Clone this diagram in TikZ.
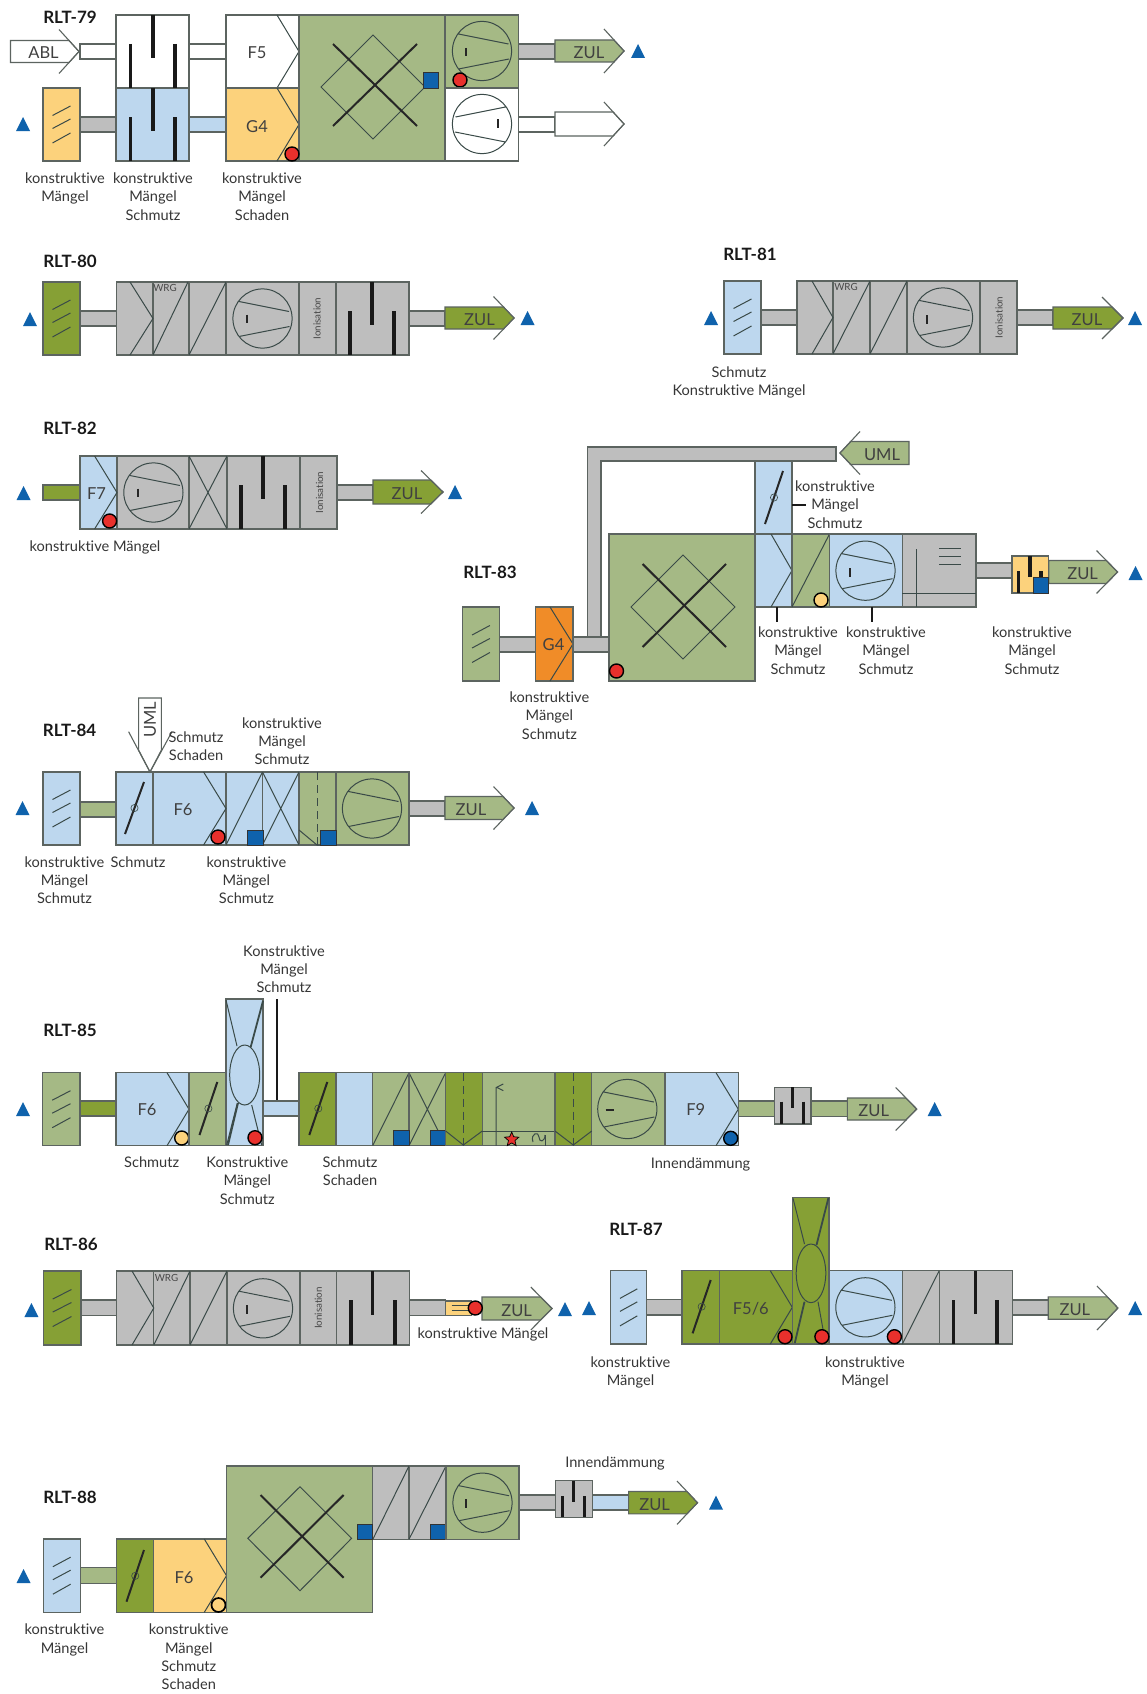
\documentclass[tikz,border=0pt]{standalone}
\usepackage{fontspec}
\setmainfont[Ligatures=NoCommon]{Lato}
\usetikzlibrary{shapes.geometric}
\definecolor{grn}{HTML}{A5B985}
\definecolor{olv}{HTML}{86A035}
\definecolor{blu}{HTML}{BDD7EE}
\definecolor{yel}{HTML}{FCD27C}
\definecolor{gry}{HTML}{BEBEBE}
\definecolor{org}{HTML}{F08C28}
\definecolor{edgec}{HTML}{5C6460}
\definecolor{inkc}{HTML}{3A4A48}
\definecolor{dblu}{HTML}{0F62AC}
\definecolor{redd}{HTML}{E8302C}
\definecolor{txtc}{HTML}{363636}
\newcounter{labc}
\tikzset{
 boxs/.style={draw=edgec,line width=1.1pt},
 inks/.style={draw=inkc,line width=1pt},
 dashs/.style={draw=inkc,line width=1pt,dash pattern=on 8pt off 5pt},
 blacks/.style={draw=black!90,line width=3.3pt},
 thicks/.style={draw=black!85,line width=2pt},
 labl/.style={font=\fontsize{14.6}{18.4}\selectfont,align=center,inner sep=0pt,text=txtc},
 midl/.style={font=\fontsize{16.5}{18}\selectfont,inner sep=0pt,text=black!75},
 ttls/.style={font=\fontsize{17}{18}\selectfont\bfseries,inner sep=0pt,text=black!90},
 tinyl/.style={font=\fontsize{9.8}{10}\selectfont,inner sep=0pt,text=black!72},
 leader/.style={draw=black!90,line width=1.6pt}
}
\newcommand{\ubox}[5]{\path[boxs,fill=#5] (#1,#3) rectangle (#2,#4);}
\newcommand{\chevf}[4]{\draw[inks] (#1,#3) -- (#2,{(#3+#4)/2}) -- (#1,#4);}
\newcommand{\diagl}[4]{\draw[inks] (#1,#4) -- (#2,#3);}
\newcommand{\crossl}[4]{\draw[inks] (#1,#4) -- (#2,#3) (#1,#3) -- (#2,#4);}
\newcommand{\fanl}[3]{\begin{scope}[shift={(#1,#2)},xscale=#3]
 \draw[inks] (0,0) circle[radius=29.6pt] (-23.5,-17) -- (26.5,-7) (-23.5,18) -- (27,8);
 \end{scope}}
\newcommand{\ftick}[2]{\draw[thicks] (#1,{#2-4}) -- (#1,{#2+4.5});}
\newcommand{\bars}[7]{\draw[blacks] (#1,#6) -- (#1,#5) (#2,#4) -- (#2,#7) (#3,#6) -- (#3,#5);}
\newcommand{\hoodl}[5]{\ubox{#1}{#2}{#3}{#4}{#5}
 \draw[inks] ({#1+9.5},{(#3+#4)/2-9}) -- ({#2-9.5},{(#3+#4)/2-18.5})
 ({#1+9.5},{(#3+#4)/2+4}) -- ({#2-9.5},{(#3+#4)/2-5.5})
 ({#1+9.5},{(#3+#4)/2+18.5}) -- ({#2-9.5},{(#3+#4)/2+8.5});}
\newcommand{\dampl}[4]{\draw[thicks] (#1,#2) -- (#3,#4);
 \draw[inks,line width=0.6pt] ({(#1+#3)/2},{(#2+#4)/2}) circle[radius=3.6pt];}
\newcommand{\arrowb}[7]{\path[boxs,fill=#7] (#1,{#3-#4}) -- ({#2-(#2-#5)*#4/#6},{#3-#4}) -- (#2,#3) -- ({#2-(#2-#5)*#4/#6},{#3+#4}) -- (#1,{#3+#4}) -- cycle;
 \draw[boxs] (#5,{#3-#6}) -- (#2,#3) -- (#5,{#3+#6});}
\newcommand{\tria}[2]{\fill[dblu] ({#1-7},{#2+7}) -- ({#1+7},{#2+7}) -- (#1,{#2-7}) -- cycle;}
\newcommand{\rdot}[2]{\draw[black,line width=1.4pt,fill=redd] (#1,#2) circle[radius=7pt];}
\newcommand{\ydot}[2]{\draw[black,line width=1.4pt,fill=yel] (#1,#2) circle[radius=7pt];}
\newcommand{\bsq}[4]{\path[draw=black!80,line width=1pt,fill=dblu] (#1,#3) rectangle (#2,#4);}
\newcommand{\lab}[3]{\stepcounter{labc}\node[labl,anchor=north] (L\thelabc) at (#1,{#2-5.6}) {#3};}
\newcommand{\mtx}[3]{\stepcounter{labc}\node[midl] (L\thelabc) at (#1,#2) {#3};}
\newcommand{\ttl}[3]{\stepcounter{labc}\node[ttls] (L\thelabc) at (#1,#2) {#3};}
\newcommand{\tny}[4][0]{\stepcounter{labc}\node[tinyl,rotate=#1] (L\thelabc) at (#2,#3) {#4};}
\begin{document}
\begin{tikzpicture}[x=1pt,y=-1pt]
\useasboundingbox (0,0) rectangle (1146,1694);
\fill[white] (0,0) rectangle (1146,1694);
% ---------- RLT-79
\ttl{70}{17}{RLT-79}
\arrowb{10.5}{79}{51.5}{11}{59}{22}{white}
\mtx{43.5}{53}{ABL}
\ubox{80}{116}{44}{59}{white}
\ubox{116}{189}{15}{88}{white}
\ubox{116}{189}{88}{161}{blu}
\bars{130.5}{153}{175}{15}{88}{44}{58}
\bars{130.5}{153}{175}{88}{161}{117}{131}
\ubox{189}{226}{44}{59}{white}
\ubox{226}{299}{15}{88}{white}
\chevf{277}{299}{15}{88}
\mtx{257}{53}{F5}
\ubox{226}{299}{88}{161}{yel}
\chevf{277}{299}{88}{161}
\mtx{257}{127}{G4}
\ubox{299}{445}{15}{161}{grn}
\draw[inks] (321,87) -- (373,35) -- (425,87) -- (373,139) -- cycle;
\draw[thicks] (333,44) -- (417,126) (333,126) -- (417,44);
\rdot{292}{154}
\bsq{423}{438.5}{73}{88}
\ubox{445}{518.5}{15}{88}{grn}
\fanl{482}{51}{1}
\ftick{466}{52}
\rdot{460}{80}
\ubox{445}{518.5}{88}{161}{white}
\fanl{482}{124}{-1}
\ftick{498}{123}
\ubox{518.5}{555}{44}{59}{gry}
\arrowb{555}{624}{51}{11}{604}{22}{grn}
\mtx{589}{53}{ZUL}
\tria{638}{51}
\ubox{518.5}{555}{117}{132}{white}
\arrowb{555}{624}{124}{12}{604}{22}{white}
\hoodl{43}{80}{88}{161}{yel}
\ubox{80}{116}{117}{132}{gry}
\ubox{189}{226}{117}{132}{blu}
\tria{23}{124}
\lab{65}{178}{konstruktive\\Mängel}
\lab{153}{178}{konstruktive\\Mängel\\Schmutz}
\lab{262}{178}{konstruktive\\Mängel\\Schaden}
% ---------- RLT-80
\ttl{70}{261}{RLT-80}
\hoodl{43}{80}{282}{355}{olv}
\ubox{80}{116.5}{311}{326}{gry}
\ubox{116.5}{409}{282}{355}{gry}
\draw[boxs] (153,282) -- (153,355) (189,282) -- (189,355) (226,282) -- (226,355) (299,282) -- (299,355) (336,282) -- (336,355);
\chevf{130}{153}{282}{355}
\diagl{153}{188}{282}{355}
\diagl{189}{226}{282}{355}
\tny{165}{288}{WRG}
\fanl{262.5}{318.5}{1}
\ftick{246.5}{318.5}
\tny[90]{317}{318.5}{Ionisation}
\bars{350}{372}{394}{282}{355}{311}{325}
\ubox{409}{445}{311}{326}{gry}
\arrowb{445}{514}{318}{11}{493.5}{21.5}{olv}
\mtx{479.5}{320}{ZUL}
\tria{30}{319}
\tria{527.5}{318}
% ---------- RLT-81
\ttl{750}{254}{RLT-81}
\hoodl{724}{761}{281}{354}{blu}
\ubox{761}{797}{310}{325}{gry}
\ubox{797}{1017}{281}{354}{gry}
\draw[boxs] (833,281) -- (833,354) (870,281) -- (870,354) (907,281) -- (907,354) (980,281) -- (980,354);
\chevf{812}{833}{281}{354}
\diagl{833}{870}{281}{354}
\diagl{870}{907}{281}{354}
\tny{846}{287}{WRG}
\fanl{943}{317.5}{1}
\ftick{927}{319}
\tny[90]{999}{317.5}{Ionisation}
\ubox{1017}{1053}{310}{325}{gry}
\arrowb{1053}{1123}{318}{11}{1102}{21}{olv}
\mtx{1087}{320}{ZUL}
\tria{711}{318}
\tria{1135}{318}
\lab{739}{372}{Schmutz\\Konstruktive Mängel}
% ---------- RLT-82
\ttl{70}{428}{RLT-82}
\ubox{43}{80}{485}{500}{olv}
\ubox{80}{337}{456}{529}{gry}
\ubox{80}{117}{456}{529}{blu}
\chevf{94.6}{117}{456}{529}
\mtx{96.5}{494}{F7}
\rdot{109.6}{521}
\fanl{153.4}{492.5}{1}
\ftick{137.5}{492.5}
\draw[boxs] (189,456) -- (189,529) (227,456) -- (227,529) (300,456) -- (300,529);
\crossl{189}{227}{456}{529}
\bars{241}{263}{285}{456}{529}{485}{499}
\tny[90]{319.6}{492.5}{Ionisation}
\ubox{337}{373}{485}{500}{gry}
\arrowb{373}{443}{492}{12}{421}{21.5}{olv}
\mtx{407}{494}{ZUL}
\tria{23.6}{493}
\tria{455}{492}
\lab{95}{546}{konstruktive Mängel}
% ---------- RLT-83
\ttl{490}{572}{RLT-83}
\hoodl{462.5}{499.4}{607}{681}{grn}
\ubox{499.4}{535.5}{637}{652}{gry}
\ubox{535.5}{573}{607}{681}{org}
\chevf{550}{573}{607}{681}
\mtx{553.5}{645}{G4}
\ubox{573}{609}{637}{652}{gry}
\path[boxs,fill=gry] (587.7,637) -- (587.7,447) -- (836,447) -- (836,461) -- (601,461) -- (601,637) -- cycle;
\arrowb{909}{840}{453}{11.5}{860}{21.5}{grn}
\mtx{882}{455}{UML}
\ubox{609}{755}{534}{681}{grn}
\draw[inks] (631,607) -- (683,555) -- (735,607) -- (683,659) -- cycle;
\draw[thicks] (642.6,564) -- (726,647) (642.6,647) -- (726,564);
\rdot{616.5}{671}
\ubox{755}{792}{461}{534}{blu}
\dampl{765}{524}{783}{471}
\coordinate (c83a) at (792,505);
\coordinate (c83b) at (805.6,505);
\draw[leader] (c83a) -- (c83b);
\lab{835}{486}{konstruktive\\Mängel\\Schmutz}
\ubox{755}{792}{534}{607}{blu}
\chevf{771}{792}{534}{607}
\ubox{792}{829.5}{534}{607}{grn}
\diagl{792}{829.5}{534}{607}
\ydot{821}{600}
\ubox{829.5}{902.4}{534}{607}{blu}
\fanl{865.5}{570.7}{1}
\ftick{850}{572}
\ubox{902.4}{976}{534}{607}{gry}
\draw[inks] (916.4,549) -- (916.4,607) (902.4,593) -- (976,593) (939,548) -- (961,548) (939,556) -- (961,556) (939,564) -- (961,564);
\coordinate (c83c) at (777,607);
\coordinate (c83d) at (777,622);
\coordinate (c83e) at (872,607);
\coordinate (c83f) at (872,622);
\draw[leader] (c83c) -- (c83d) (c83e) -- (c83f);
\lab{798}{632}{konstruktive\\Mängel\\Schmutz}
\lab{886}{632}{konstruktive\\Mängel\\Schmutz}
\lab{1032}{632}{konstruktive\\Mängel\\Schmutz}
\lab{549.4}{697}{konstruktive\\Mängel\\Schmutz}
\ubox{976}{1012}{563}{578}{gry}
\arrowb{1048.7}{1117.6}{572}{11.5}{1096.5}{21.5}{grn}
\ubox{1012}{1048.7}{556}{593}{yel}
\bars{1018.6}{1030}{1041}{556}{593}{571}{577}
\bsq{1033.4}{1048.7}{577}{593}
\mtx{1082.6}{574}{ZUL}
\tria{1135.6}{573}
% ---------- RLT-84
\ttl{69.6}{730}{RLT-84}
\hoodl{43}{80}{772}{845}{blu}
\ubox{80}{116}{802}{817}{grn}
\ubox{116}{299}{772}{845}{blu}
\ubox{299}{409}{772}{845}{grn}
\draw[boxs] (153,772) -- (153,845) (226,772) -- (226,845) (262.5,772) -- (262.5,845) (336,772) -- (336,845);
\dampl{125}{834}{144}{782}
\chevf{203.6}{226}{772}{845}
\mtx{183}{810}{F6}
\rdot{218}{837}
\diagl{226}{262.5}{772}{845}
\crossl{262.5}{299}{772}{845}
\bsq{247}{263}{830}{845}
\draw[dashs] (317,772) -- (317,845);
\draw[inks] (299,830) -- (317,845) -- (320,845);
\bsq{320}{336}{830}{845}
\fanl{372}{808.5}{1}
\ubox{409}{445}{801}{816}{gry}
\arrowb{445}{514}{808}{11.5}{493.5}{21.5}{grn}
\mtx{471}{810}{ZUL}
\path[boxs,fill=white] (138.6,698) -- (161.4,698) -- (161.4,750) -- (150,772) -- (138.6,750) -- cycle;
\draw[boxs] (128.6,731.7) -- (150,772) -- (172,731.7);
\stepcounter{labc}\node[midl,rotate=90] (L\thelabc) at (150,720) {UML};
\tria{22.5}{808}
\tria{532}{808}
\lab{196}{737}{Schmutz\\Schaden}
\lab{282}{722.7}{konstruktive\\Mängel\\Schmutz}
\lab{64.5}{861.7}{konstruktive\\Mängel\\Schmutz}
\lab{138}{861.7}{Schmutz}
\lab{246.4}{861.7}{konstruktive\\Mängel\\Schmutz}
% ---------- RLT-85
\ttl{70}{1030}{RLT-85}
\hoodl{42.7}{80}{1072.7}{1145.7}{grn}
\ubox{80}{116}{1101}{1116}{olv}
\ubox{116}{189}{1072.7}{1145.7}{blu}
\chevf{167}{189}{1072.7}{1145.7}
\mtx{147}{1110}{F6}
\ydot{181.7}{1138}
\ubox{189}{226}{1072.7}{1145.7}{grn}
\dampl{199.5}{1135}{217.3}{1082}
\coordinate (c85a) at (276.7,999);
\coordinate (c85b) at (276.7,1101);
\draw[leader] (c85a) -- (c85b);
\ubox{263}{299}{1101}{1116}{blu}
\ubox{226}{263}{999}{1145.7}{blu}
\draw[inks] (226,1000) -- (237,1046) (226.7,1145) -- (237.3,1103) (261.7,1145) -- (251.7,1105);
\draw[inks,line width=1.8pt] (263,1001) -- (250.7,1047) (228,1145) -- (238,1103);
\draw[inks,fill=blu] (244.7,1075) ellipse[x radius=15pt,y radius=30pt];
\rdot{255}{1137.7}
\ubox{299}{336}{1072.7}{1145.7}{olv}
\dampl{309.3}{1135}{327.3}{1082}
\ubox{336}{372.7}{1072.7}{1145.7}{blu}
\ubox{372.7}{665}{1072.7}{1145.7}{grn}
\diagl{372.7}{409}{1072.7}{1145.7}
\crossl{409}{445.7}{1072.7}{1145.7}
\draw[boxs] (409,1072.7) -- (409,1145.7);
\bsq{393.3}{409}{1130}{1145.7}
\bsq{430}{445.7}{1130}{1145.7}
\ubox{445.7}{482.3}{1072.7}{1145.7}{olv}
\draw[dashs] (463.3,1072.7) -- (463.3,1145.7);
\draw[inks] (445.7,1131) -- (463.3,1145) -- (482.3,1131);
\draw[inks] (482.3,1131) -- (555,1131);
\draw[inks] (496,1145.7) -- (496,1087.3) (503.3,1084) -- (496.7,1087.3) -- (503.3,1090.7);
\stepcounter{labc}\node[star,star points=5,star point ratio=2.2,minimum size=15pt,inner sep=0pt,fill=redd,draw=black,line width=0.7pt] (L\thelabc) at (511.7,1139.5) {};
\draw[inks] (533,1142) .. controls (530,1133) and (539,1131) .. (539,1137) .. controls (539,1143) and (545,1142) .. (545,1135);
\draw[inks] (545,1135) -- (545,1145.7);
\ubox{555}{591.7}{1072.7}{1145.7}{olv}
\draw[dashs] (573.3,1072.7) -- (573.3,1145.7);
\draw[inks] (555,1131) -- (573.3,1145) -- (591.7,1131);
\fanl{627.3}{1109}{1}
\draw[thicks] (605.7,1109.7) -- (614.3,1109.7);
\ubox{665}{738.3}{1072.7}{1145.7}{blu}
\chevf{716}{738.3}{1072.7}{1145.7}
\mtx{695.7}{1110}{F9}
\draw[black,line width=1.4pt,fill=dblu] (730.7,1138.3) circle[radius=7pt];
\ubox{738.3}{774.3}{1101}{1116.3}{grn}
\ubox{811}{847.3}{1101}{1116.3}{grn}
\ubox{774.3}{811}{1087.3}{1124}{gry}
\bars{781.3}{792.7}{803.3}{1087.3}{1124}{1101.7}{1108}
\arrowb{847.3}{916.7}{1109}{11}{895.7}{21.5}{grn}
\mtx{873.7}{1110.7}{ZUL}
\tria{23}{1109}
\tria{934.7}{1109}
\lab{284}{950.7}{Konstruktive\\Mängel\\Schmutz}
\lab{151.7}{1162}{Schmutz}
\lab{247.3}{1162}{Konstruktive\\Mängel\\Schmutz}
\lab{350}{1162}{Schmutz\\Schaden}
\lab{700.5}{1163}{Innendämmung}
% ---------- RLT-86
\ttl{71}{1244}{RLT-86}
\hoodl{43.2}{81}{1271}{1345}{olv}
\ubox{81}{116.7}{1300}{1315.7}{gry}
\ubox{116.7}{409.5}{1271}{1345}{gry}
\draw[boxs] (153.8,1271) -- (153.8,1345) (190,1271) -- (190,1345) (227,1271) -- (227,1345) (300,1271) -- (300,1345) (336.8,1271) -- (336.8,1345);
\chevf{132}{153.8}{1271}{1345}
\diagl{153.8}{190}{1271}{1345}
\diagl{190}{227}{1271}{1345}
\tny{166.5}{1278}{WRG}
\fanl{263}{1308.3}{1}
\ftick{246.8}{1309}
\tny[90]{318.4}{1308}{Ionisation}
\bars{351}{372.8}{395}{1271}{1345}{1300}{1315}
\ubox{409.5}{445.8}{1300}{1315.7}{gry}
\ubox{445.8}{471.5}{1301}{1315.7}{yel}
\draw[inks] (451.6,1305.5) -- (468.8,1305.5) (451.6,1310.7) -- (468.8,1310.7);
\arrowb{482}{552}{1308.5}{11.5}{530.8}{21.5}{grn}
\rdot{475.3}{1308}
\mtx{516.6}{1310.7}{ZUL}
\tria{31.4}{1310}
\tria{565}{1309}
\lab{483}{1332.7}{konstruktive Mängel}
% ---------- RLT-87
\ttl{636}{1229}{RLT-87}
\hoodl{610.5}{646.8}{1270.7}{1344}{blu}
\ubox{646.8}{682}{1299.3}{1315}{gry}
\ubox{682}{792.3}{1270.7}{1344}{olv}
\draw[boxs] (719.7,1270.7) -- (719.7,1344);
\dampl{692.6}{1333.3}{710.7}{1280}
\chevf{770.3}{792.3}{1270.7}{1344}
\mtx{750.8}{1309}{F5/6}
\ubox{902.4}{1012.1}{1270.7}{1344}{gry}
\ubox{829}{902.4}{1270.7}{1344}{blu}
\ubox{792.3}{829}{1197.3}{1344}{olv}
\draw[inks] (793,1198.3) -- (804.5,1244) (825.5,1343) -- (818,1301.7);
\draw[inks,line width=1.8pt] (828.4,1198) -- (816.5,1245) (794.8,1343) -- (804.5,1301.7);
\draw[inks,fill=olv] (811,1273.3) ellipse[x radius=14.8pt,y radius=29.3pt];
\rdot{785}{1336.7}
\rdot{821.9}{1336.7}
\fanl{865.4}{1307.3}{1}
\rdot{894.4}{1336.7}
\diagl{902.4}{939.2}{1270.7}{1344}
\draw[boxs] (939.2,1270.7) -- (939.2,1344);
\bars{953.3}{975.3}{997}{1270.7}{1344}{1300}{1314.3}
\ubox{1012.1}{1048.2}{1300}{1315}{gry}
\arrowb{1048.2}{1117.9}{1308}{11.2}{1097}{22}{grn}
\mtx{1074.9}{1310}{ZUL}
\tria{589}{1308}
\tria{1135.2}{1308}
\lab{630.5}{1361.7}{konstruktive\\Mängel}
\lab{865}{1361.7}{konstruktive\\Mängel}
% ---------- RLT-88
\ttl{70}{1497.3}{RLT-88}
\hoodl{43.4}{80.2}{1539}{1612.3}{blu}
\ubox{80.2}{116.6}{1567.7}{1583.3}{grn}
\ubox{116.6}{153.4}{1539}{1612.3}{olv}
\dampl{126.5}{1601.7}{144}{1550}
\ubox{153.4}{226.5}{1539}{1612.3}{yel}
\chevf{204.3}{226.5}{1539}{1612.3}
\mtx{184}{1578}{F6}
\draw[black,line width=1.7pt,fill=yel] (218.5,1605) circle[radius=7pt];
\ubox{226.5}{372.8}{1466}{1612.3}{grn}
\draw[inks] (247.8,1538.3) -- (300,1486.7) -- (351.6,1538.3) -- (300,1590.7) -- cycle;
\draw[thicks] (260.5,1495) -- (343.6,1577.7) (260.5,1577.7) -- (343.6,1495);
\ubox{372.8}{446}{1466}{1539.3}{gry}
\draw[boxs] (409,1466) -- (409,1539.3);
\diagl{372.8}{409}{1466}{1539.3}
\diagl{409}{446}{1466}{1539.3}
\bsq{357}{372.8}{1524}{1539.3}
\bsq{430.4}{446}{1524}{1539.3}
\ubox{446}{519}{1466}{1539.3}{grn}
\fanl{482.5}{1502.7}{1}
\ftick{466.3}{1503}
\ubox{519}{555.4}{1495}{1510}{gry}
\ubox{592.3}{628.6}{1495}{1510}{blu}
\ubox{555.4}{592.3}{1480.7}{1517.3}{gry}
\bars{562.5}{573.4}{584.2}{1480.7}{1517.3}{1496}{1502.3}
\arrowb{628.6}{697.5}{1502.7}{11.2}{677}{21.7}{olv}
\mtx{654.6}{1505}{ZUL}
\tria{23.6}{1576}
\tria{716}{1502.7}
\lab{615}{1461.7}{Innendämmung}
\lab{64.5}{1629.3}{konstruktive\\Mängel}
\lab{188.8}{1629.3}{konstruktive\\Mängel\\Schmutz\\Schaden}
\end{tikzpicture}
\end{document}
